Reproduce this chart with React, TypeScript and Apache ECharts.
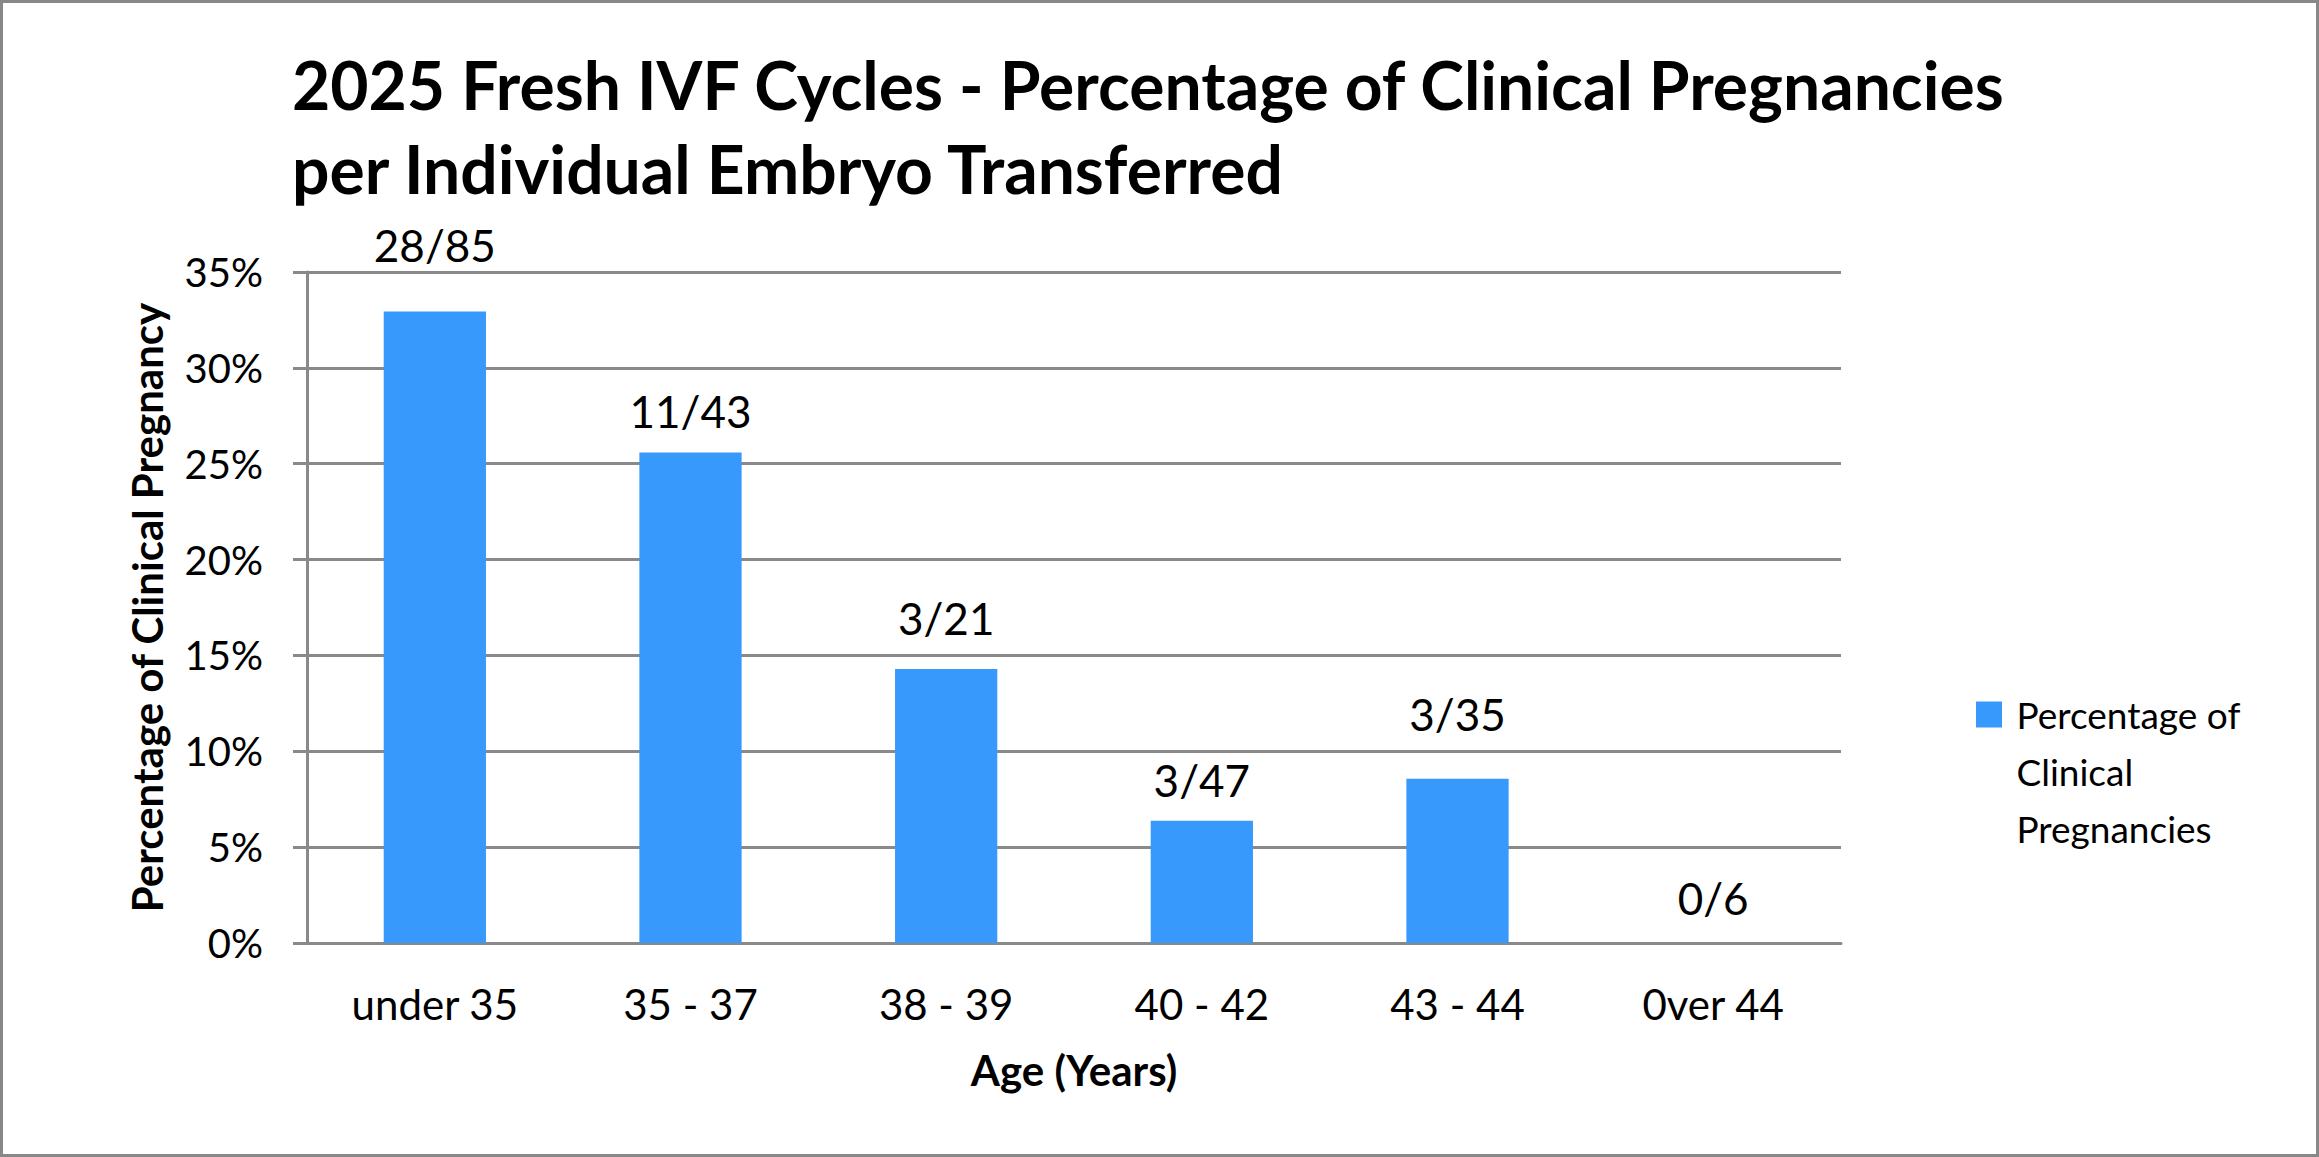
import React, { useEffect, useRef } from "react";
import * as echarts from "echarts";

// Age groups on the category axis
const categories = ["under 35", "35 - 37", "38 - 39", "40 - 42", "43 - 44", "0ver 44"];
// Clinical pregnancies and individual embryos transferred per age group
const pregnancies = [28, 11, 3, 3, 3, 0];
const transfers = [85, 43, 21, 47, 35, 6];
// Axis range, in fractions
const yMax = 0.35;
const yStep = 0.05;

// Extra lift of each fraction label above its bar (px)
const labelLift = [44, 20, 29, 19, 43, 23];

const FONT = "Lato, 'Open Sans', sans-serif";
const GRID_GREY = "#898989";
const BAR_BLUE = "#3899FC";

export default function App() {
  const ref = useRef<HTMLDivElement>(null);

  useEffect(() => {
    document.body.style.margin = "0";
    if (!ref.current) return;
    const chart = echarts.init(ref.current, undefined, { renderer: "svg" });

    const fractions = pregnancies.map((p, i) => `${p}/${transfers[i]}`);
    const data = pregnancies.map((p, i) => ({
      value: p / transfers[i],
      label: { distance: labelLift[i] },
    }));

    chart.setOption({
      animation: false,
      backgroundColor: "#ffffff",
      textStyle: { fontFamily: FONT },
      title: {
        text: "2025 Fresh IVF Cycles - Percentage of Clinical Pregnancies\nper Individual Embryo Transferred",
        left: 287,
        top: 37,
        textStyle: {
          fontFamily: FONT,
          fontSize: 66,
          fontWeight: "bold",
          color: "#000000",
          lineHeight: 84,
        },
      },
      legend: {
        orient: "vertical",
        left: 1971,
        top: 567,
        icon: "rect",
        itemWidth: 26,
        itemHeight: 26,
        selectedMode: false,
        // two empty leading lines keep the first text line level with the swatch
        formatter: () => "\n\n Percentage of\n Clinical\n Pregnancies",
        textStyle: {
          fontFamily: FONT,
          fontSize: 37,
          lineHeight: 57,
          color: "#000000",
        },
      },
      grid: { left: 307, right: 478, top: 272, bottom: 214, containLabel: false },
      xAxis: {
        type: "category",
        data: categories,
        name: "Age (Years)",
        nameLocation: "middle",
        nameGap: 106,
        nameTextStyle: { fontFamily: FONT, fontSize: 42, fontWeight: "bold", color: "#000000" },
        axisLine: { show: true, lineStyle: { color: GRID_GREY, width: 3 } },
        axisTick: { show: false },
        axisLabel: { fontFamily: FONT, fontSize: 42, color: "#000000", margin: 40 },
      },
      yAxis: {
        type: "value",
        min: 0,
        max: yMax,
        interval: yStep,
        name: "Percentage of Clinical Pregnancy",
        nameLocation: "middle",
        nameGap: 139,
        nameTextStyle: { fontFamily: FONT, fontSize: 42, fontWeight: "bold", color: "#000000" },
        axisLine: { show: true, lineStyle: { color: GRID_GREY, width: 3 } },
        axisTick: { show: true, inside: false, length: 14, lineStyle: { color: GRID_GREY, width: 3 } },
        splitLine: { show: true, lineStyle: { color: GRID_GREY, width: 3 } },
        axisLabel: {
          fontFamily: FONT,
          fontSize: 40,
          color: "#000000",
          margin: 44,
          formatter: (v: number) => `${Math.round(v * 100)}%`,
        },
      },
      series: [
        {
          name: "Percentage of Clinical Pregnancies",
          type: "bar",
          barWidth: "40%",
          data,
          itemStyle: { color: BAR_BLUE },
          label: {
            show: true,
            position: "top",
            fontFamily: FONT,
            fontSize: 44,
            color: "#000000",
            formatter: (p: any) => fractions[p.dataIndex],
          },
        },
      ],
      graphic: [
        {
          type: "rect",
          silent: true,
          z: 100,
          shape: { x: 1.5, y: 1.5, width: 2316, height: 1154 },
          style: { fill: "none", stroke: "#888888", lineWidth: 3 },
        },
      ],
    });

    return () => chart.dispose();
  }, []);

  return <div ref={ref} style={{ width: 2319, height: 1157 }} />;
}
